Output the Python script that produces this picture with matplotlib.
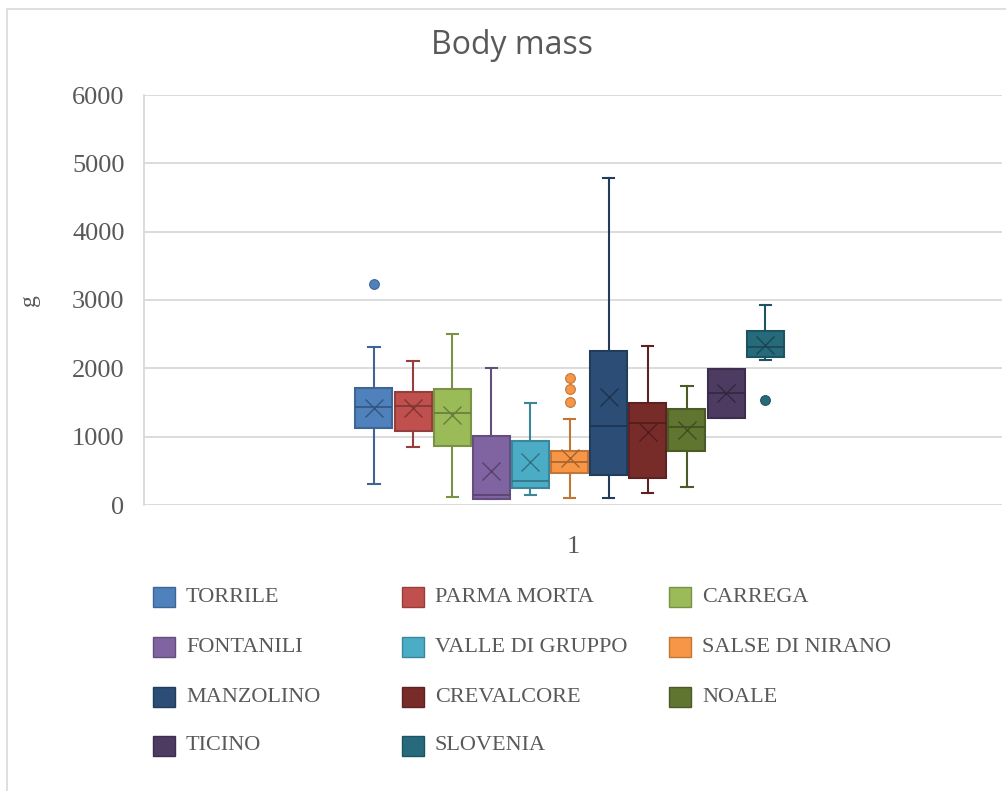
import numpy as np
import matplotlib
matplotlib.use("Agg")
import matplotlib.pyplot as plt
from matplotlib.patches import Rectangle
from matplotlib.colors import to_rgb

# sites, in legend / plotting order
sites = ["TORRILE", "PARMA MORTA", "CARREGA", "FONTANILI", "VALLE DI GRUPPO",
         "SALSE DI NIRANO", "MANZOLINO", "CREVALCORE", "NOALE", "TICINO", "SLOVENIA"]
colors = ["#4F81BD", "#C0504D", "#9BBB59", "#8064A2", "#4BACC6", "#F79646",
          "#2C4D75", "#772C2A", "#5F7530", "#4D3B62", "#276A7C"]

# box statistics (g)
whislo = [307, 844, 112, 92, 146, 107, 98, 171, 259, 1278, 2122]
q1 = [1122, 1083, 868, 92, 254, 464, 439, 390, 795, 1278, 2161]
med = [1439, 1454, 1351, 146, 351, 634, 1161, 1195, 1146, 1644, 2317]
q3 = [1717, 1654, 1703, 1015, 932, 795, 2258, 1498, 1400, 1990, 2551]
whishi = [2317, 2107, 2502, 2000, 1498, 1263, 4781, 2332, 1746, 1990, 2932]
means = [1424, 1424, 1317, 502, 634, 683, 1585, 1073, 1098, 1644, 2342]
fliers = [[3234], [], [], [], [], [1507, 1693, 1854], [], [], [], [], [1537]]

W, H = 1006, 791
fig = plt.figure(figsize=(W / 100, H / 100), dpi=100)
ax = fig.add_axes([144 / W, 1 - 505 / H, (1002 - 144) / W, (505 - 95) / H])

grey = "#595959"
grid = "#D9D9D9"

step = 0.0456
width = 0.043
positions = 0.996 + (np.arange(len(sites)) - 5) * step

for i, name in enumerate(sites):
    c = np.array(to_rgb(colors[i]))
    dark = c * 0.78
    stats = [dict(med=med[i], q1=q1[i], q3=q3[i], whislo=whislo[i],
                  whishi=whishi[i], mean=means[i], fliers=fliers[i], label=name)]
    ax.bxp(stats, positions=[positions[i]], widths=width, capwidths=0.013,
           patch_artist=True, showmeans=True, manage_ticks=False,
           boxprops=dict(facecolor=c, edgecolor=dark, linewidth=1.5),
           whiskerprops=dict(color=dark, linewidth=1.5),
           capprops=dict(color=dark, linewidth=1.5),
           medianprops=dict(color=dark * 0.85, linewidth=1.2),
           meanprops=dict(marker="x", markeredgecolor=dark * 0.85,
                          markersize=13, markeredgewidth=1.0),
           flierprops=dict(marker="o", markerfacecolor=c, markeredgecolor=dark,
                           markersize=7, markeredgewidth=0.8),
           zorder=3)

ax.set_xlim(0.5, 1.5)
ax.set_ylim(0, 6000)
ax.set_yticks(np.arange(0, 6001, 1000))
ax.set_xticks([1])
ax.set_xticklabels(["1"])
ax.yaxis.grid(True, color=grid, linewidth=1.3, zorder=0)
ax.set_axisbelow(True)
for s in ["top", "right", "bottom"]:
    ax.spines[s].set_visible(False)
ax.spines["left"].set_color(grid)
ax.spines["left"].set_linewidth(1.3)
ax.tick_params(length=0, colors=grey)
ax.tick_params(axis="y", pad=14)
ax.tick_params(axis="x", pad=22)
for lab in ax.get_yticklabels() + ax.get_xticklabels():
    lab.set_fontfamily("Liberation Serif")
    lab.set_fontsize(19)
    lab.set_color(grey)

ax.set_ylabel("g", fontfamily="Liberation Serif", fontsize=17, color=grey)
ax.yaxis.set_label_coords((40 - 144) / (1002 - 144), 0.5)

fig.text(512 / W, 1 - 46 / H, "Body mass", ha="center", va="center",
         fontfamily="Open Sans", fontsize=23, color=grey)

# legend laid out row by row, three columns of equal width
col_x = [153, 402, 669]
row_y = [597, 647, 697, 746]
for i, name in enumerate(sites):
    r, cidx = divmod(i, 3)
    x0, yc = col_x[cidx], row_y[r]
    c = np.array(to_rgb(colors[i]))
    fig.add_artist(Rectangle((x0 / W, 1 - (yc + 10) / H), 22 / W, 20 / H,
                             transform=fig.transFigure, facecolor=c,
                             edgecolor=c * 0.78, linewidth=1))
    fig.text((x0 + 33) / W, 1 - yc / H, name, ha="left", va="center",
             fontfamily="Liberation Serif", fontsize=16, color=grey)

# chart area border
fig.add_artist(Rectangle((7 / W, -0.1), 1.2, 1.1 - 9 / H, transform=fig.transFigure,
                         facecolor="none", edgecolor=grid, linewidth=1.2))

fig.savefig("out.png", dpi=100)
